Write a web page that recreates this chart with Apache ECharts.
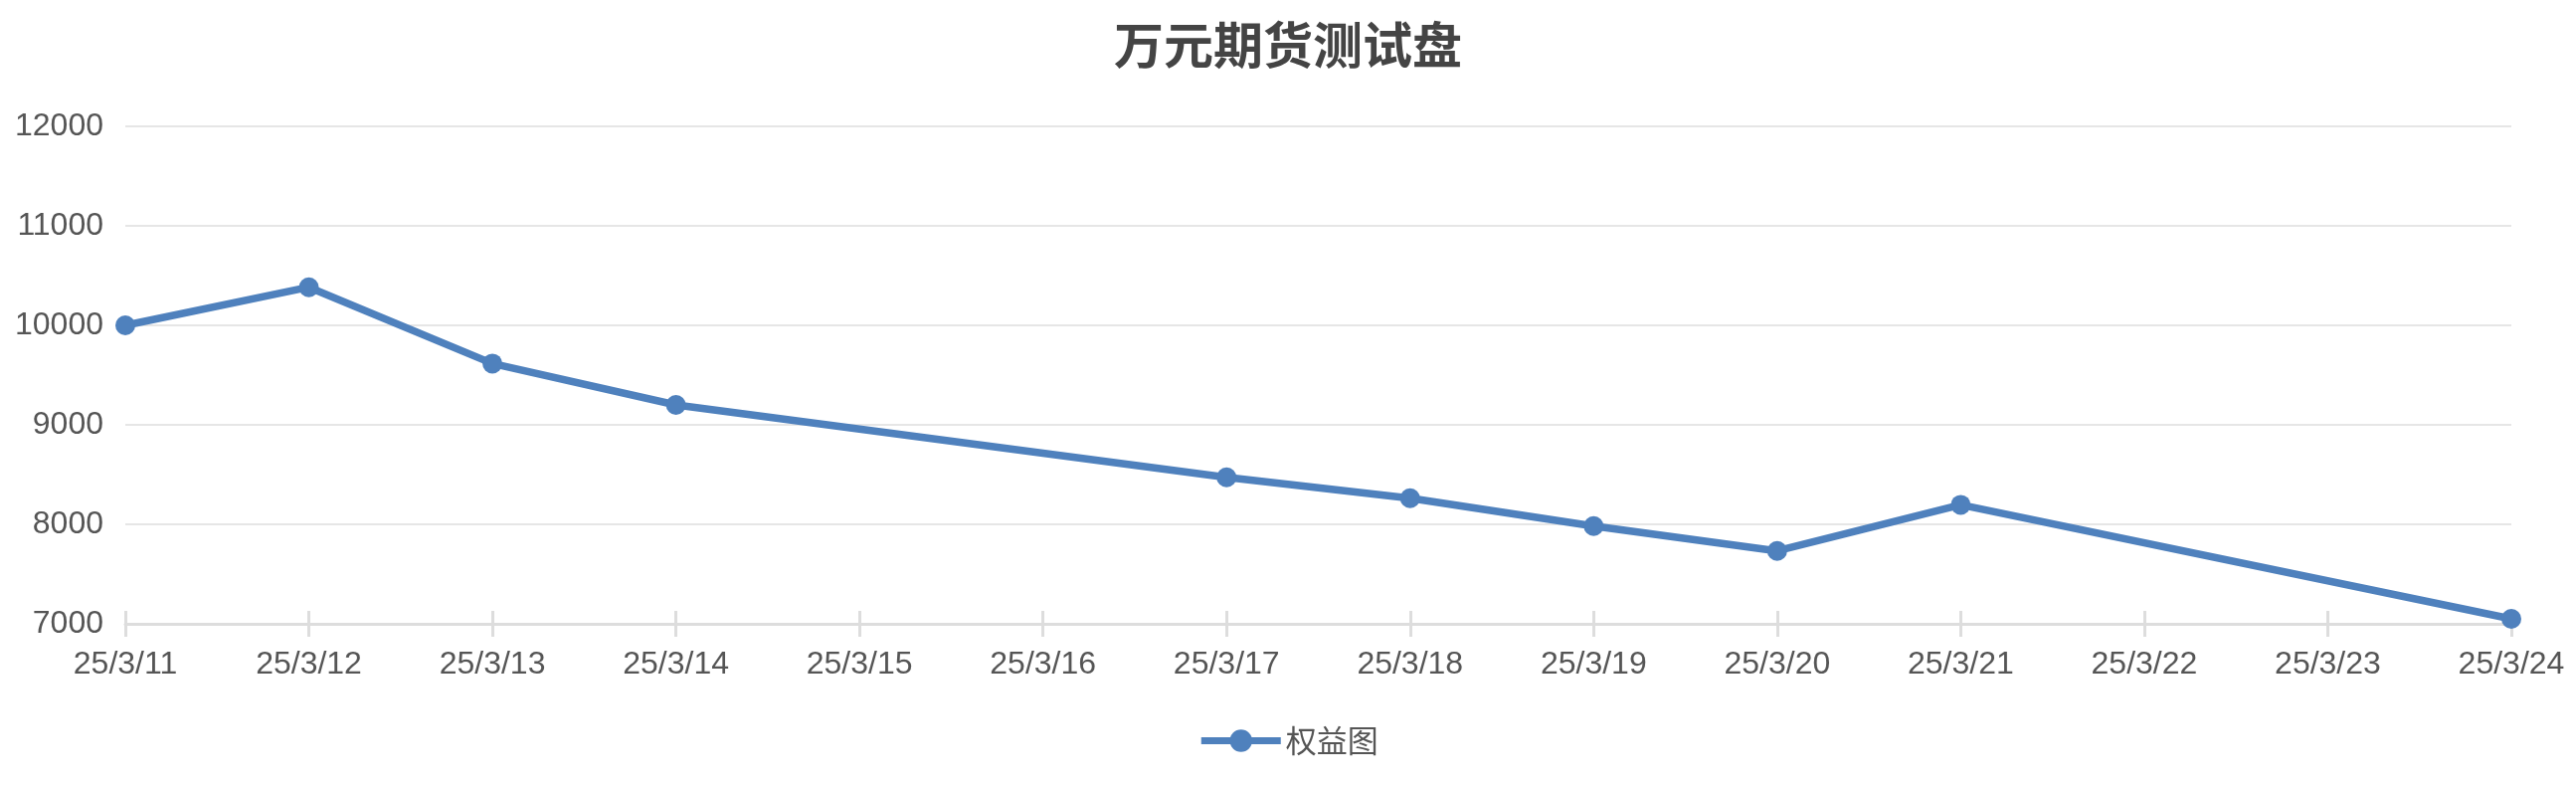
<!DOCTYPE html>
<html>
<head>
<meta charset="utf-8">
<script src="https://cdn.jsdelivr.net/npm/echarts@6/dist/echarts.min.js"></script>
<style>
html,body{margin:0;padding:0;background:#fff;}
#chart{width:2590px;height:790px;}
</style>
</head>
<body>
<div id="chart"></div>
<script>
const titleText = '万元期货测试盘';
const seriesName = '权益图';
const categories = ['25/3/11','25/3/12','25/3/13','25/3/14','25/3/15','25/3/16','25/3/17','25/3/18','25/3/19','25/3/20','25/3/21','25/3/22','25/3/23','25/3/24'];
const equityValues = [10000, 10383, 9616, 9200, null, null, 8473, 8263, 7983, 7733, 8196, null, null, 7050];
const yMin = 7000;
const yMax = 12000;
const yInterval = 1000;

const chart = echarts.init(document.getElementById('chart'), null, {renderer:'canvas', devicePixelRatio:1});
const sansFont = '"Liberation Sans", Arial, "Noto Sans CJK SC", sans-serif';
const cjkFont = '"Noto Sans CJK SC", "Liberation Sans", sans-serif';
const lineColor = '#4f81bd';

chart.setOption({
  animation:false,
  backgroundColor:'#ffffff',
  title:{
    text:titleText,
    left:'center',
    top:15,
    textStyle:{fontSize:50, fontWeight:'bold', color:'#444444', fontFamily:cjkFont}
  },
  legend:{
    data:[seriesName],
    top:724,
    left:'center',
    itemWidth:80,
    itemHeight:28,
    lineStyle:{width:7},
    textStyle:{fontSize:31, color:'#555555', fontFamily:cjkFont}
  },
  grid:{left:126, right:65, top:127, bottom:163},
  xAxis:[{
    type:'category',
    data:categories,
    boundaryGap:false,
    axisLine:{show:true, lineStyle:{color:'#dddddd', width:3}},
    axisTick:{show:true, length:13, lineStyle:{color:'#dddddd', width:3}},
    axisLabel:{interval:0, fontSize:32, color:'#555555', margin:25, fontFamily:sansFont},
    splitLine:{show:false}
  },{
    type:'category',
    data:categories,
    boundaryGap:false,
    position:'bottom',
    axisLine:{show:false},
    axisTick:{show:true, inside:true, length:13, lineStyle:{color:'#dddddd', width:3}},
    axisLabel:{show:false},
    splitLine:{show:false}
  }],
  yAxis:{
    type:'value',
    min:yMin,
    max:yMax,
    interval:yInterval,
    axisLine:{show:false},
    axisTick:{show:false},
    axisLabel:{fontSize:32, color:'#555555', margin:22, fontFamily:sansFont, formatter:function(v){return String(v);}},
    splitLine:{show:true, lineStyle:{color:'#e6e6e6', width:2}}
  },
  series:[{
    name:seriesName,
    type:'line',
    xAxisIndex:0,
    data:equityValues,
    connectNulls:true,
    symbol:'circle',
    symbolSize:20,
    showAllSymbol:true,
    lineStyle:{width:7.5, color:lineColor},
    itemStyle:{color:lineColor}
  }]
});
</script>
</body>
</html>
